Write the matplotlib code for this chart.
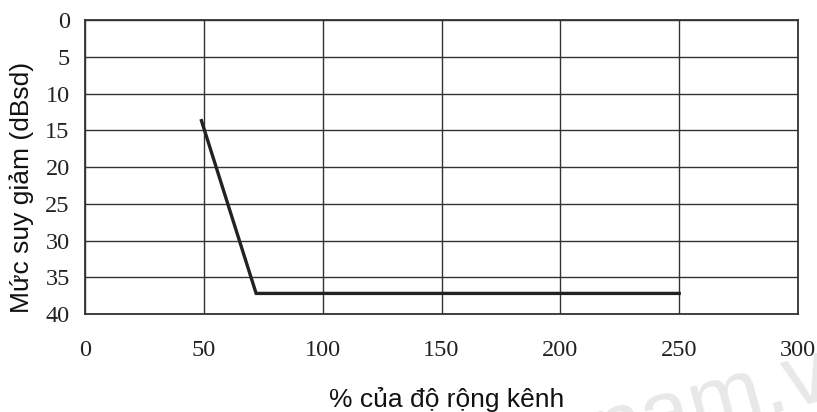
import numpy as np
import matplotlib.pyplot as plt

# data
bandwidth_pct = [49, 72, 250]
attenuation = [13.7, 37.2, 37.2]
x_ticks = [0, 50, 100, 150, 200, 250, 300]
y_ticks = [0, 5, 10, 15, 20, 25, 30, 35, 40]

fig = plt.figure(figsize=(8.17, 4.12), dpi=100)
ax = fig.add_axes([85 / 817, 1 - 314 / 412, 713 / 817, 294 / 412])

ax.plot(bandwidth_pct, attenuation, color='#222222', lw=2.4, solid_joinstyle='miter')

ax.set_xlim(0, 300)
ax.set_ylim(40, 0)
ax.set_xticks(x_ticks)
ax.set_yticks(y_ticks)
ax.grid(True, color='#333333', lw=1.0)
ax.set_axisbelow(True)
for s in ax.spines.values():
    s.set_color('#333333')
    s.set_linewidth(1.3)

ax.tick_params(length=0, labelsize=17.5, colors='#222222')
ax.tick_params(axis='x', pad=19)
ax.tick_params(axis='y', pad=11)
for lab in ax.get_xticklabels() + ax.get_yticklabels():
    lab.set_fontfamily('Liberation Serif')

# x label sits low, its descenders run off the bottom edge as in the reference
ax.text(447 / 817, 5 / 412, '% của độ rộng kênh', transform=fig.transFigure,
        fontsize=19, family='Liberation Sans', color='#111111',
        ha='center', va='baseline')
ax.set_ylabel('Mức suy giảm (dBsd)', fontsize=19, family='Liberation Sans', color='#111111')
ax.yaxis.set_label_coords(-0.0715, 0.43)

# faint watermark in the corner
fig.text(0.735, -0.112, 'nam.vn', fontsize=64, color='#e8e8e8', rotation=15,
         rotation_mode='anchor', family='Liberation Sans', ha='left', va='baseline',
         zorder=0)

plt.savefig('out.png', dpi=100)
